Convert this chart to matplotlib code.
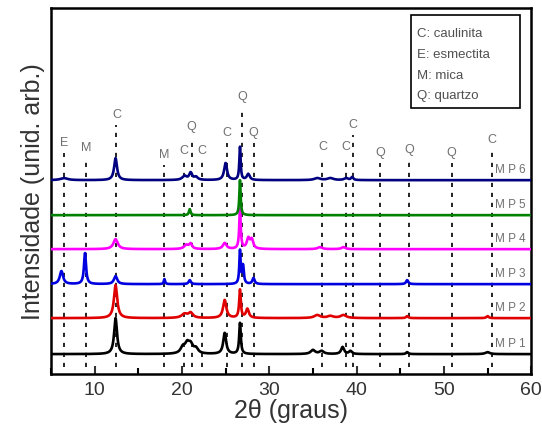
import numpy as np
import matplotlib.pyplot as plt
from matplotlib.patches import Rectangle

plt.rcParams['font.family'] = ['Liberation Sans', 'DejaVu Sans']

# sample names, offsets and colours (bottom to top)
samples = ['M P 1', 'M P 2', 'M P 3', 'M P 4', 'M P 5', 'M P 6']
offsets = [20, 56, 90, 125, 159, 194]
colors = ['black', '#e00000', '#0000e0', '#ff00ff', '#008000', '#000080']

# reflections: position (2θ), height, fwhm
peaks = {
    'M P 1': ([12.4, 20.1, 20.6, 21.0, 21.6, 24.9, 26.65, 35.0, 36.0, 38.4, 39.3, 45.8, 55.0],
              [36, 6, 9, 8, 5, 21, 31, 4, 3, 7, 3, 2, 2],
              [0.4, 0.6, 0.6, 0.6, 0.6, 0.4, 0.22, 0.6, 0.6, 0.4, 0.4, 0.3, 0.6]),
    'M P 2': ([12.4, 20.3, 21.0, 24.9, 26.65, 27.5, 35.5, 37.0, 38.5, 45.8, 55.0],
              [33, 4, 5, 18, 28, 9, 3, 2, 3, 2, 2],
              [0.45, 0.8, 0.6, 0.45, 0.22, 0.4, 0.8, 0.8, 0.8, 0.3, 0.3]),
    'M P 3': ([6.2, 8.9, 12.4, 18.0, 20.9, 26.65, 27.0, 28.2, 45.8],
              [13, 31, 8, 5, 4, 33, 18, 6, 4],
              [0.45, 0.28, 0.45, 0.18, 0.3, 0.18, 0.22, 0.3, 0.3]),
    'M P 4': ([12.4, 20.5, 21.0, 24.9, 26.65, 27.6, 28.0, 35.8, 38.5],
              [10, 4, 5, 6, 40, 10, 9, 2, 2],
              [0.6, 0.6, 0.4, 0.5, 0.2, 0.4, 0.4, 0.6, 0.5]),
    'M P 5': ([20.9, 26.65],
              [6, 35],
              [0.22, 0.18]),
    'M P 6': ([6.5, 12.4, 20.3, 21.0, 21.6, 25.0, 26.65, 27.6, 35.5, 37.0, 38.8, 39.5],
              [2, 22, 4, 7, 3, 17, 33, 6, 2, 2, 2, 3],
              [1.0, 0.4, 0.6, 0.4, 0.5, 0.4, 0.18, 0.4, 0.8, 0.8, 0.5, 0.3]),
}

# phase markers: position, letter, label height
marker_pos = [6.5, 9.0, 12.5, 18.0, 20.2, 21.1, 22.3, 25.2, 26.9, 28.2,
              36.1, 38.8, 39.6, 42.7, 46.0, 50.9, 55.5]
marker_lab = ['E', 'M', 'C', 'M', 'C', 'Q', 'C', 'C', 'Q', 'Q',
              'C', 'C', 'C', 'Q', 'Q', 'Q', 'C']
marker_y = [231, 226, 259, 219, 223, 247, 223, 241, 277, 241,
            227, 227, 249, 221, 224, 221, 234]

legend_lines = ['C: caulinita', 'E: esmectita', 'M: mica', 'Q: quartzo']


def pattern(pos, height, width, x):
    y = np.zeros_like(x)
    for p, h, w in zip(pos, height, width):
        y += h / (1 + ((x - p) / (w / 2)) ** 2)
    return y


fig = plt.figure(figsize=(5.42, 4.32), dpi=100)
ax = fig.add_axes([0.094, 0.134, 0.886, 0.847])

x = np.linspace(5, 60, 4000)
for name, off, c in zip(samples, offsets, colors):
    pos, h, w = peaks[name]
    ax.plot(x, off + pattern(pos, h, w, x), color=c, lw=1.9, zorder=3)
    ax.text(55.9, off + 10, name, color='#707070', fontsize=8.5, va='center', zorder=4)

for p, lab, ly in zip(marker_pos, marker_lab, marker_y):
    ax.plot([p, p], [7, ly - 10], color='black', lw=1.2,
            linestyle=(0, (2.5, 3.5)), zorder=2)
    ax.text(p, ly, lab, color='#707070', fontsize=9, ha='center', va='center')

# legend box with the phase abbreviations
ax.add_patch(Rectangle((0.749, 0.727), 0.227, 0.254, transform=ax.transAxes,
                       fill=False, edgecolor='black', lw=1.2))
for i, t in enumerate(legend_lines):
    ax.text(0.762, 0.93 - i * 0.057, t, transform=ax.transAxes,
            fontsize=9.5, color='#505050', va='center')

ax.set_xlim(5, 60)
ax.set_ylim(0, 366)
ax.set_xticks([10, 20, 30, 40, 50, 60])
ax.set_xticks([5, 15, 25, 35, 45, 55], minor=True)
ax.tick_params(axis='x', direction='in', length=6, width=1.5, labelsize=14,
               colors='#333333', pad=6)
ax.tick_params(axis='x', which='minor', direction='in', length=4, width=1.5)
ax.set_yticks([])
for s in ax.spines.values():
    s.set_linewidth(1.8)

ax.set_xlabel('2θ (graus)', fontsize=18, color='#333333', labelpad=0)
ax.set_ylabel('Intensidade (unid. arb.)', fontsize=18, color='#333333', labelpad=4)

fig.savefig('out.png', dpi=100)
